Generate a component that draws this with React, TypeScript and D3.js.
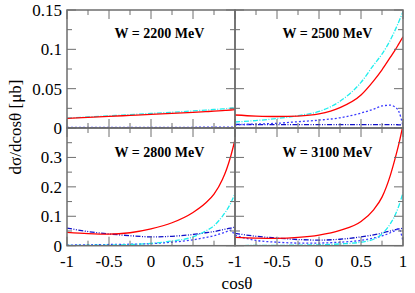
import React from "react";
import * as d3 from "d3";

// cos(theta) grid shared by all curves
const cosGrid = [-1, -0.75, -0.5, -0.25, 0, 0.25, 0.5, 0.65, 0.75, 0.85, 0.9, 0.95, 1];

// W = 2200 MeV
const red2200 = [0.0123, 0.0135, 0.0148, 0.016, 0.0172, 0.0185, 0.0199, 0.0208, 0.0214, 0.0221, 0.0225, 0.0229, 0.0233];
const cyan2200 = [0.0125, 0.014, 0.0155, 0.017, 0.0185, 0.02, 0.0217, 0.0228, 0.0235, 0.0243, 0.0247, 0.0252, 0.0256];
const dot2200 = [0.0007, 0.0007, 0.0008, 0.0008, 0.0008, 0.0009, 0.0009, 0.001, 0.001, 0.001, 0.001, 0.001, 0.0008];
const dd2200 = [0.0004, 0.0004, 0.0004, 0.0004, 0.0004, 0.0004, 0.0004, 0.0004, 0.0004, 0.0004, 0.0004, 0.0004, 0.0004];

// W = 2500 MeV
const red2500 = [0.0165, 0.0152, 0.0146, 0.0152, 0.018, 0.026, 0.042, 0.06, 0.074, 0.09, 0.098, 0.107, 0.116];
const cyan2500 = [0.0076, 0.0095, 0.012, 0.0158, 0.021, 0.034, 0.058, 0.08, 0.094, 0.112, 0.123, 0.135, 0.148];
const dot2500 = [0.004, 0.005, 0.006, 0.008, 0.01, 0.013, 0.019, 0.024, 0.028, 0.029, 0.027, 0.021, 0.003];
const dd2500 = [0.0045, 0.0044, 0.0043, 0.0042, 0.0042, 0.0042, 0.0042, 0.0042, 0.0042, 0.0042, 0.0042, 0.0041, 0.004];

// W = 2800 MeV
const red2800 = [0.0455, 0.041, 0.039, 0.044, 0.057, 0.078, 0.113, 0.145, 0.175, 0.225, 0.26, 0.305, 0.36];
const cyan2800 = [0.001, 0.0015, 0.002, 0.004, 0.008, 0.016, 0.03, 0.05, 0.068, 0.1, 0.12, 0.145, 0.178];
const dot2800 = [0.002, 0.003, 0.004, 0.005, 0.007, 0.012, 0.02, 0.028, 0.034, 0.043, 0.048, 0.053, 0.03];
const dd2800 = [0.06, 0.048, 0.04, 0.034, 0.03, 0.032, 0.038, 0.044, 0.048, 0.054, 0.057, 0.06, 0.063];

// W = 3100 MeV
const red3100 = [0.0285, 0.026, 0.025, 0.028, 0.036, 0.052, 0.082, 0.122, 0.165, 0.24, 0.29, 0.345, 0.41];
const cyan3100 = [0.0005, 0.0007, 0.001, 0.002, 0.003, 0.006, 0.012, 0.022, 0.04, 0.075, 0.1, 0.135, 0.18];
const dot3100 = [0.035, 0.018, 0.012, 0.009, 0.009, 0.012, 0.018, 0.026, 0.033, 0.044, 0.05, 0.057, 0.015];
const dd3100 = [0.042, 0.032, 0.026, 0.021, 0.019, 0.022, 0.03, 0.037, 0.043, 0.05, 0.054, 0.057, 0.059];

const panelTitles = ["W = 2200 MeV", "W = 2500 MeV", "W = 2800 MeV", "W = 3100 MeV"];
const topYTicks = ["0", "0.05", "0.1", "0.15"];
const bottomYTicks = ["0", "0.1", "0.2", "0.3"];
const leftXTicks = ["-1", "-0.5", "0", "0.5"];
const rightXTicks = ["-1", "-0.5", "0", "0.5", "1"];

const styles = [
  { color: "#ff0000", dash: "none", width: 1.3 },
  { color: "#20eeee", dash: "5,1.5,1,1.5", width: 1.3 },
  { color: "#3a3aff", dash: "2,2", width: 1.3 },
  { color: "#1010c8", dash: "5,1.5,1,1.5,1,1.5", width: 1.3 },
];

const panelSeries = [
  [red2200, cyan2200, dot2200, dd2200],
  [red2500, cyan2500, dot2500, dd2500],
  [red2800, cyan2800, dot2800, dd2800],
  [red3100, cyan3100, dot3100, dd3100],
];

const X0 = 67, X1 = 235, X2 = 403;
const Y0 = 10, Y1 = 128, Y2 = 245.7;
const FRAME = "#6e6e6e";
const serif = { fontFamily: "'Liberation Serif'" };

export default function App() {
  const panels = [0, 1, 2, 3].map((i) => {
    const col = i % 2, row = Math.floor(i / 2);
    const x = d3.scaleLinear().domain([-1, 1]).range(col === 0 ? [X0, X1] : [X1, X2]);
    const y = row === 0
      ? d3.scaleLinear().domain([0, 0.15]).range([Y1, Y0])
      : d3.scaleLinear().domain([0, 0.4]).range([Y2, Y1]);
    return { i, col, row, x, y };
  });

  return (
    <svg width={415} height={293} style={{ position: "absolute", left: 0, top: 0, background: "#fff" }}>
      <defs>
        {panels.map((p) => (
          <clipPath id={`clip${p.i}`} key={p.i}>
            <rect x={p.x.range()[0]} y={p.y.range()[1]} width={p.x.range()[1] - p.x.range()[0]} height={p.y.range()[0] - p.y.range()[1]} />
          </clipPath>
        ))}
      </defs>

      {panels.map((p) => {
        const line = d3.line<number>()
          .x((_, k) => p.x(cosGrid[k]))
          .y((v) => p.y(v))
          .curve(d3.curveMonotoneX);
        const [xa, xb] = p.x.range();
        const [yb, ya] = p.y.range();
        const yStep = p.row === 0 ? 0.025 : 0.05;
        const nY = p.row === 0 ? 6 : 8;
        const yTicks = d3.range(0, nY + 1).map((k) => k * yStep);
        const xTicks = d3.range(0, 9).map((k) => -1 + k * 0.25);
        return (
          <g key={p.i}>
            <g clipPath={`url(#clip${p.i})`}>
              {[3, 2, 1, 0].map((k) => {
                const st = styles[k];
                return (
                  <path key={k} d={line(panelSeries[p.i][k]) ?? ""} fill="none" stroke={st.color}
                    strokeWidth={st.width} strokeDasharray={st.dash} />
                );
              })}
            </g>
            {yTicks.map((v, k) => {
              const len = k % 2 === 0 ? 9 : 5;
              return (
                <g key={`y${k}`} stroke={FRAME} strokeWidth={1}>
                  <line x1={xa} x2={xa + len} y1={p.y(v)} y2={p.y(v)} />
                  <line x1={xb} x2={xb - len} y1={p.y(v)} y2={p.y(v)} />
                </g>
              );
            })}
            {xTicks.map((v, k) => {
              const len = k % 2 === 0 ? 9 : 5;
              return (
                <g key={`x${k}`} stroke={FRAME} strokeWidth={1}>
                  <line x1={p.x(v)} x2={p.x(v)} y1={yb} y2={yb - len} />
                  <line x1={p.x(v)} x2={p.x(v)} y1={ya} y2={ya + len} />
                </g>
              );
            })}
            <rect x={xa} y={ya} width={xb - xa} height={yb - ya} fill="none" stroke={FRAME} strokeWidth={1.5} />
            <text x={p.x(0.1)} y={p.row === 0 ? 38 : 157} textAnchor="middle"
              fontWeight="bold" fontSize={14} style={serif}>{panelTitles[p.i]}</text>
            {p.col === 0 && (p.row === 0 ? topYTicks : bottomYTicks).map((lab) => (
              <text key={`yl${lab}`} x={X0 - 5} y={p.y(+lab)} dy="0.35em" textAnchor="end"
                fontSize={17} style={serif}>{lab}</text>
            ))}
            {p.row === 1 && (p.col === 0 ? leftXTicks : rightXTicks).map((lab) => (
              <text key={`xl${lab}`} x={p.x(+lab)} y={267} textAnchor="middle"
                fontSize={17} style={serif}>{lab}</text>
            ))}
          </g>
        );
      })}

      <text x={237} y={289} textAnchor="middle" fontSize={17} style={serif}>cosθ</text>
      <text transform={`translate(21,127) rotate(-90)`} textAnchor="middle" fontSize={17} style={serif}>dσ/dcosθ [μb]</text>
    </svg>
  );
}
